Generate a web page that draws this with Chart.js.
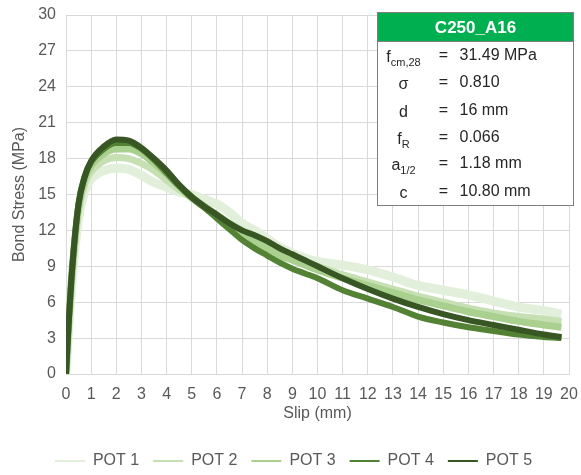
<!DOCTYPE html>
<html>
<head>
<meta charset="utf-8">
<script src="https://cdn.jsdelivr.net/npm/chart.js@4/dist/chart.umd.min.js"></script>
<style>
  html, body { margin: 0; padding: 0; background: #ffffff; }
  #wrap { width: 581px; height: 475px; }
</style>
</head>
<body>
<div id="wrap"><canvas id="chart" width="581" height="475"></canvas></div>
<script>
// Slip positions (mm) shared by all five pull-out tests
const slip = [0, 0.05, 0.1, 0.25, 0.5, 0.75, 1, 1.5, 2, 2.5, 3, 3.5, 4, 4.5, 5, 5.5, 6, 6.5, 7, 7.5, 8, 8.5, 9, 9.5, 10, 11, 12, 13, 14, 15, 16, 17, 18, 19, 19.7];

// Bond stress (MPa) for each test
const pot1 = [0, 1.8, 3.6, 8.0, 13.0, 15.3, 16.3, 17.0, 17.2, 17.1, 16.6, 16.0, 15.6, 15.2, 15.0, 14.6, 14.2, 13.5, 12.6, 12.0, 11.3, 10.6, 10.1, 9.7, 9.4, 9.1, 8.7, 8.1, 7.4, 7.0, 6.6, 6.1, 5.6, 5.3, 5.0];
const pot2 = [0, 1.9, 3.8, 8.5, 13.6, 15.9, 16.9, 17.8, 18.1, 18.0, 17.6, 17.0, 16.2, 15.4, 14.7, 14.0, 13.3, 12.6, 12.0, 11.3, 10.7, 10.2, 9.7, 9.3, 9.0, 8.3, 7.7, 7.1, 6.5, 6.0, 5.5, 5.1, 4.8, 4.6, 4.4];
const pot3 = [0, 2.0, 4.0, 8.8, 14.0, 16.3, 17.4, 18.4, 18.8, 18.8, 18.4, 17.6, 16.7, 15.7, 14.8, 14.0, 13.3, 12.5, 11.8, 11.1, 10.5, 9.9, 9.5, 9.1, 8.7, 8.0, 7.4, 6.8, 6.2, 5.7, 5.2, 4.8, 4.4, 4.1, 3.9];
const pot4 = [0, 2.0, 4.0, 8.9, 14.3, 16.6, 17.7, 18.8, 19.3, 19.3, 18.8, 17.9, 16.8, 15.7, 14.7, 13.9, 13.0, 12.1, 11.2, 10.5, 9.9, 9.3, 8.8, 8.4, 8.0, 7.0, 6.3, 5.6, 4.8, 4.3, 3.9, 3.6, 3.3, 3.1, 3.0];
const pot5 = [0, 2.0, 4.0, 8.9, 14.2, 16.5, 17.8, 19.0, 19.6, 19.5, 18.9, 18.0, 17.0, 15.8, 14.8, 14.0, 13.3, 12.6, 12.0, 11.6, 11.1, 10.5, 10.0, 9.5, 9.0, 8.0, 7.1, 6.3, 5.6, 5.0, 4.5, 4.1, 3.7, 3.3, 3.1];

const seriesNames = ['POT 1', 'POT 2', 'POT 3', 'POT 4', 'POT 5'];
const seriesValues = [pot1, pot2, pot3, pot4, pot5];
const seriesColors = ['#e2efda', '#c6e0b4', '#a9d08e', '#548235', '#375623'];
const seriesWidths = [9, 7, 7, 6, 6];

// Axis ranges and tick spacing
const xRange = [0, 20, 1];
const yRange = [0, 30, 3];

// Specimen information panel
const panelTitle = 'C250_A16';
const panelRows = [
  ['f', 'cm,28', '31.49 MPa'],
  ['σ', '', '0.810'],
  ['d', '', '16 mm'],
  ['f', 'R', '0.066'],
  ['a', '1/2', '1.18 mm'],
  ['c', '', '10.80 mm']
];

const FONT = '"Liberation Sans", Arial, sans-serif';
const TEXT = '#595959';

const datasets = seriesNames.map((name, i) => ({
  label: name,
  data: slip.map((s, k) => ({ x: s, y: seriesValues[i][k] })),
  borderColor: seriesColors[i],
  backgroundColor: seriesColors[i],
  borderWidth: seriesWidths[i],
  pointRadius: 0,
  fill: false,
  cubicInterpolationMode: 'monotone',
  order: seriesNames.length - i
}));

// Information box drawn in the upper right of the plot
const infoPanel = {
  id: 'infoPanel',
  afterDraw(chart) {
    const { ctx, chartArea } = chart;
    const w = 196, h = 193, headH = 29;
    const left = chartArea.right - 192 + 0.5;
    const top = chartArea.top - 3 + 0.5;
    ctx.save();
    ctx.fillStyle = '#ffffff';
    ctx.fillRect(left, top, w, h);
    ctx.fillStyle = '#00b050';
    ctx.fillRect(left, top, w, headH);
    ctx.strokeStyle = '#7f7f7f';
    ctx.lineWidth = 1;
    ctx.strokeRect(left, top, w, h);
    ctx.beginPath();
    ctx.moveTo(left, top + headH);
    ctx.lineTo(left + w, top + headH);
    ctx.stroke();

    ctx.fillStyle = '#ffffff';
    ctx.font = 'bold 17px ' + FONT;
    ctx.textAlign = 'center';
    ctx.textBaseline = 'middle';
    ctx.fillText(panelTitle, left + w / 2, top + headH / 2 + 1);

    const rowY = [43, 70, 98, 125, 151, 179];
    ctx.fillStyle = '#262626';
    panelRows.forEach((r, i) => {
      const y = top + rowY[i];
      const mainFont = '16px ' + FONT;
      const subFont = '11px ' + FONT;
      ctx.font = mainFont;
      const mw = ctx.measureText(r[0]).width;
      ctx.font = subFont;
      const sw = r[1] ? ctx.measureText(r[1]).width : 0;
      const cx = left + 26;
      const x0 = cx - (mw + sw) / 2;
      ctx.textAlign = 'left';
      ctx.textBaseline = 'alphabetic';
      ctx.font = mainFont;
      ctx.fillText(r[0], x0, y + 6);
      if (r[1]) {
        ctx.font = subFont;
        ctx.fillText(r[1], x0 + mw, y + 10);
      }
      ctx.font = mainFont;
      ctx.textBaseline = 'middle';
      ctx.textAlign = 'center';
      ctx.fillText('=', left + 66, y);
      ctx.textAlign = 'left';
      ctx.fillText(r[2], left + 82, y);
    });
    ctx.restore();
  }
};

new Chart(document.getElementById('chart'), {
  type: 'line',
  data: { datasets },
  plugins: [infoPanel],
  options: {
    responsive: false,
    animation: false,
    devicePixelRatio: 1,
    layout: { padding: { top: 15, right: 12, left: 18, bottom: -4 } },
    plugins: {
      tooltip: { enabled: false },
      legend: {
        position: 'bottom',
        labels: {
          font: { family: FONT, size: 16 },
          color: TEXT,
          boxWidth: 30,
          boxHeight: 2,
          padding: 14,
          sort: (a, b) => a.datasetIndex - b.datasetIndex,
          generateLabels(chart) {
            return chart.data.datasets.map((ds, i) => ({
              text: ds.label,
              fillStyle: ds.borderColor,
              strokeStyle: ds.borderColor,
              lineWidth: 0,
              hidden: false,
              datasetIndex: i,
              fontColor: TEXT
            }));
          }
        }
      }
    },
    scales: {
      x: {
        type: 'linear',
        min: xRange[0], max: xRange[1],
        ticks: { stepSize: xRange[2], color: TEXT, font: { family: FONT, size: 16 }, padding: 0, maxRotation: 0, autoSkip: false },
        grid: { color: '#d9d9d9', drawTicks: true, tickLength: 11, tickColor: 'rgba(0,0,0,0)' },
        border: { color: '#d9d9d9' },
        title: { display: true, text: 'Slip (mm)', color: TEXT, font: { family: FONT, size: 16 }, padding: { top: 0, bottom: 16 } },
        afterFit(scale) { scale.height = 65; }
      },
      y: {
        min: yRange[0], max: yRange[1],
        ticks: { stepSize: yRange[2], color: TEXT, font: { family: FONT, size: 16 }, padding: 0 },
        grid: { color: '#d9d9d9', drawTicks: true, tickLength: 10, tickColor: 'rgba(0,0,0,0)' },
        border: { color: '#d9d9d9' },
        title: { display: true, text: 'Bond Stress (MPa)', color: TEXT, font: { family: FONT, size: 16 }, padding: { top: -8, bottom: 0 } },
        afterFit(scale) { scale.width = 48; }
      }
    }
  }
});
</script>
</body>
</html>
